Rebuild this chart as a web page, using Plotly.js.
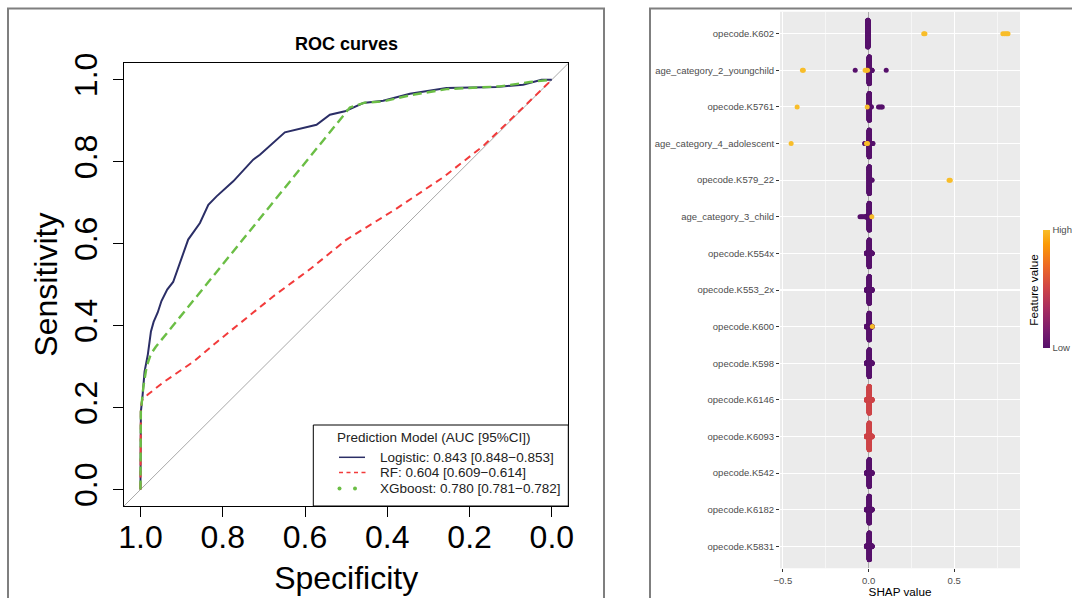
<!DOCTYPE html>
<html><head><meta charset="utf-8">
<script src="https://cdn.plot.ly/plotly-3.0.1.min.js"></script>
<style>html,body{margin:0;padding:0;background:#fff}#chart{width:1072px;height:598px}</style>
</head><body><div id="chart"></div>
<script>
const FONT = 'Liberation Sans, Arial, sans-serif';

// ---------------- ROC data (specificity, sensitivity) ----------------
const logisticSpec = [1, 0.999, 0.995, 0.99, 0.982, 0.9745, 0.968, 0.958, 0.949, 0.935, 0.9205, 0.911, 0.897, 0.884, 0.8554, 0.835, 0.815, 0.7745, 0.726, 0.7096, 0.649, 0.6124, 0.572, 0.5395, 0.503, 0.4586, 0.41, 0.345, 0.256, 0.1344, 0.07, 0.025, 0];
const logisticSens = [0, 0.19, 0.228, 0.288, 0.33, 0.386, 0.409, 0.432, 0.46, 0.488, 0.5065, 0.534, 0.576, 0.61, 0.6504, 0.695, 0.7154, 0.752, 0.805, 0.817, 0.8715, 0.8797, 0.89, 0.9146, 0.9228, 0.943, 0.9488, 0.9659, 0.98, 0.982, 0.9878, 1.0, 1.0];
const rfSpec = [1, 0.999, 0.996, 0.982, 0.944, 0.8685, 0.812, 0.679, 0.585, 0.499, 0.38, 0.264, 0.167, 0.07, 0];
const rfSens = [0, 0.2, 0.218, 0.232, 0.262, 0.314, 0.362, 0.47, 0.54, 0.61, 0.684, 0.762, 0.838, 0.932, 1.0];
const xgbSpec = [1, 0.999, 0.993, 0.985, 0.975, 0.963, 0.491, 0.455, 0.41, 0.345, 0.256, 0.126, 0.0535, 0];
const xgbSens = [0, 0.19, 0.25, 0.3, 0.33, 0.348, 0.932, 0.944, 0.947, 0.962, 0.977, 0.9837, 0.9943, 1.0];
const legendTitle = 'Prediction Model (AUC [95%CI])';
const modelNames = ['Logistic: 0.843 [0.848\u22120.853]', 'RF: 0.604 [0.609\u22120.614]', 'XGboost: 0.780 [0.781\u22120.782]'];
const modelColors = ['#2B2E66', '#F23B3B', '#6BBE45'];
const rocTicks = [0, 0.2, 0.4, 0.6, 0.8, 1.0];

// ---------------- SHAP data ----------------
const features = ['opecode.K602', 'age_category_2_youngchild', 'opecode.K5761', 'age_category_4_adolescent', 'opecode.K579_22', 'age_category_3_child', 'opecode.K554x', 'opecode.K553_2x', 'opecode.K600', 'opecode.K598', 'opecode.K6146', 'opecode.K6093', 'opecode.K542', 'opecode.K6182', 'opecode.K5831'];
// per feature: SHAP value of each group of observations, its scaled feature value, and how many observations
const groupShap = [
  [-0.004, 0.322, 0.329, 0.784, 0.795, 0.805, 0.814],
  [-0.386, -0.381, -0.078, -0.02, -0.013, -0.006, 0.004, 0.02, 0.103],
  [-0.417, -0.008, 0.004, 0.015, 0.058, 0.066, 0.074, 0.08],
  [-0.452, -0.022, -0.012, -0.006, 0.004, 0.025],
  [0.004, 0.02, 0.47, 0.477],
  [-0.05, -0.042, -0.034, -0.026, -0.012, 0.004, 0.012, 0.019],
  [-0.012, -0.005, 0.004, 0.013, 0.02],
  [-0.012, -0.005, 0.004, 0.013, 0.02],
  [-0.012, -0.005, 0.004, 0.013, 0.02, 0.022],
  [-0.012, -0.005, 0.004, 0.013, 0.02],
  [-0.012, -0.005, 0.004, 0.013, 0.02],
  [-0.012, -0.005, 0.004, 0.013, 0.02],
  [-0.012, -0.005, 0.004, 0.013, 0.02],
  [-0.012, -0.005, 0.004, 0.013, 0.02],
  [-0.012, -0.005, 0.004, 0.013, 0.02]
];
const groupFeat = [
  [0, 1, 1, 1, 1, 1, 1],
  [1, 1, 0, 1, 1, 1, 0, 0, 0],
  [1, 1, 0, 0, 0, 0, 0, 0],
  [1, 0, 1, 1, 0, 0],
  [0, 0, 1, 1],
  [0, 0, 0, 0, 0, 0, 0, 1],
  [0, 0, 0, 0, 0],
  [0, 0, 0, 0, 0],
  [0, 0, 0, 0, 0, 1],
  [0, 0, 0, 0, 0],
  [0.5, 0.5, 0.5, 0.5, 0.5],
  [0.5, 0.5, 0.5, 0.5, 0.5],
  [0, 0, 0, 0, 0],
  [0, 0, 0, 0, 0],
  [0, 0, 0, 0, 0]
];
const groupCount = [
  [200, 1, 1, 1, 1, 1, 1],
  [1, 1, 1, 1, 1, 1, 200, 3, 1],
  [1, 1, 200, 3, 1, 1, 1, 1],
  [1, 2, 1, 1, 200, 2],
  [200, 2, 1, 1],
  [1, 1, 1, 1, 8, 200, 6, 1],
  [8, 12, 200, 12, 8],
  [8, 12, 200, 12, 8],
  [8, 12, 200, 12, 8, 1],
  [8, 12, 200, 12, 8],
  [8, 12, 200, 12, 8],
  [8, 12, 200, 12, 8],
  [8, 12, 200, 12, 8],
  [8, 12, 200, 12, 8],
  [8, 12, 200, 12, 8]
];
const shapTicks = [-0.5, 0, 0.5];

// ---------------- beeswarm layout (quasirandom, density-scaled) ----------------
function vdc(n) { let v = 0, d = 1; while (n > 0) { d *= 2; v += (n % 2) / d; n = Math.floor(n / 2); } return v; }
const pts = [];
features.forEach((f, r) => {
  const nMax = Math.max(...groupCount[r]);
  groupShap[r].forEach((s, i) => {
    const n = groupCount[r][i];
    const w = 0.37 * n / nMax;
    for (let k = 0; k < n; k++) {
      const off = n === 1 ? 0 : w * (2 * vdc(k + 1) - 1);
      pts.push({ x: s, y: r + 1 + off, c: groupFeat[r][i], t: f });
    }
  });
});
pts.sort((a, b) => a.c - b.c);

const infernoScale = [[0, '#56106B'], [0.139, '#781C6D'], [0.324, '#A52C60'], [0.509, '#CF4446'], [0.694, '#ED6925'], [0.88, '#FB9A06'], [1, '#F8BD29']];

const traces = [
  { type: 'scatter', mode: 'lines', x: logisticSpec, y: logisticSens, name: modelNames[0], xaxis: 'x', yaxis: 'y',
    line: { color: modelColors[0], width: 2 } },
  { type: 'scatter', mode: 'lines', x: rfSpec, y: rfSens, name: modelNames[1], xaxis: 'x', yaxis: 'y',
    line: { color: modelColors[1], width: 2, dash: '7px,5px' } },
  { type: 'scatter', mode: 'lines', x: xgbSpec, y: xgbSens, name: modelNames[2], xaxis: 'x', yaxis: 'y',
    line: { color: modelColors[2], width: 2.4, dash: '9px,5px' } },
  { type: 'scatter', mode: 'markers', x: pts.map(p => p.x), y: pts.map(p => p.y), xaxis: 'x2', yaxis: 'y2',
    showlegend: false, hoverinfo: 'x+text', text: pts.map(p => p.t),
    marker: { size: 5, color: pts.map(p => p.c), cmin: 0, cmax: 1, colorscale: infernoScale, line: { width: 0 },
      showscale: true,
      colorbar: { x: 1042.7 / 1072, xanchor: 'left', xref: 'paper', y: 1 - 289 / 598, yanchor: 'middle', yref: 'paper',
        thickness: 6.6, len: 118, lenmode: 'pixels', xpad: 0, ypad: 0, outlinewidth: 0,
        tickvals: [0, 1], ticktext: ['Low', 'High'], ticks: '', ticklabelposition: 'outside',
        tickfont: { family: FONT, size: 9.5, color: '#4D4D4D' } } } }
];

const W = 1072, H = 598;
const px = v => v / W, py = v => 1 - v / H;

// legend drawn in the R style: box, centred title, sample glyphs and entry text
const legendShapes = [
  { type: 'rect', xref: 'paper', yref: 'paper', x0: px(313.3), x1: px(568.3), y0: py(506), y1: py(425), line: { color: '#000', width: 1 }, fillcolor: '#fff' },
  { type: 'line', xref: 'paper', yref: 'paper', x0: px(339), x1: px(365), y0: py(457.3), y1: py(457.3), line: { color: modelColors[0], width: 1.5 } },
  { type: 'line', xref: 'paper', yref: 'paper', x0: px(339), x1: px(366), y0: py(472.5), y1: py(472.5), line: { color: modelColors[1], width: 1.3, dash: '4px,3.5px' } },
  { type: 'circle', xref: 'paper', yref: 'paper', x0: px(337.5), x1: px(341.5), y0: py(490.5), y1: py(486.5), line: { width: 0 }, fillcolor: modelColors[2] },
  { type: 'circle', xref: 'paper', yref: 'paper', x0: px(353), x1: px(357), y0: py(490.5), y1: py(486.5), line: { width: 0 }, fillcolor: modelColors[2] }
];
const legendY = [457.3, 472.5, 488.5];
const legendAnn = [{ text: legendTitle, xref: 'paper', yref: 'paper', x: px(434), y: py(437.3), xanchor: 'center', yanchor: 'middle',
    showarrow: false, font: { family: FONT, size: 13.5, color: '#222' } }]
  .concat(modelNames.map((t, i) => ({ text: t, xref: 'paper', yref: 'paper', x: px(378.3), y: py(legendY[i]), xanchor: 'left', yanchor: 'middle',
    showarrow: false, font: { family: FONT, size: 13.5, color: '#222' } })));

const layout = {
  width: W, height: H, margin: { l: 0, r: 0, t: 0, b: 0 }, paper_bgcolor: '#fff', plot_bgcolor: 'rgba(0,0,0,0)',
  font: { family: FONT, color: '#000' }, showlegend: false,
  title: { text: 'ROC curves', font: { family: FONT, size: 18, color: '#000', weight: 'bold' },
    x: px(346.5), xanchor: 'center', xref: 'paper', y: py(44), yanchor: 'middle', yref: 'paper' },
  xaxis: { domain: [px(124), px(568.3)], anchor: 'y', range: [1.04, -0.04], tickmode: 'array', tickvals: rocTicks, tickformat: '.1f',
    ticks: 'outside', ticklen: 10, tickwidth: 1, tickcolor: '#000', showline: true, linecolor: '#000', linewidth: 1, mirror: true,
    ticklabelstandoff: -7,
    showgrid: false, zeroline: false, tickfont: { family: FONT, size: 32, color: '#000' },
    title: { text: 'Specificity', font: { family: FONT, size: 32, color: '#000' }, standoff: 12 } },
  yaxis: { domain: [py(506), py(63.3)], anchor: 'x', range: [-0.04, 1.04], tickmode: 'array', tickvals: rocTicks, tickformat: '.1f',
    tickangle: -90, ticks: 'outside', ticklen: 10, tickwidth: 1, tickcolor: '#000', showline: true, linecolor: '#000', linewidth: 1, mirror: true,
    ticklabelstandoff: 3,
    showgrid: false, zeroline: false, tickfont: { family: FONT, size: 32, color: '#000' },
    title: { text: 'Sensitivity', font: { family: FONT, size: 32, color: '#000' }, standoff: 0 } },
  xaxis2: { domain: [px(780), px(1020)], anchor: 'y2', range: [-0.517, 0.884], tickmode: 'array', tickvals: shapTicks, tickformat: '.1f',
    ticks: 'outside', ticklen: 3, tickwidth: 1, tickcolor: '#333', showline: false,
    showgrid: true, gridcolor: '#fff', gridwidth: 1.1,
    minor: { tickmode: 'linear', tick0: 0, dtick: 0.25, showgrid: true, gridcolor: '#fff', gridwidth: 0.55 },
    zeroline: true, zerolinecolor: '#A9A9A9', zerolinewidth: 1.6,
    tickfont: { family: FONT, size: 9.5, color: '#4D4D4D' },
    title: { text: 'SHAP value', font: { family: FONT, size: 11.7, color: '#000' }, standoff: 2 } },
  yaxis2: { domain: [py(568.3), py(11.7)], anchor: 'x2', range: [15.6, 0.4], tickmode: 'array',
    tickvals: features.map((f, i) => i + 1), ticktext: features,
    ticks: 'outside', ticklen: 3, tickwidth: 1, tickcolor: '#333', showline: false,
    showgrid: true, gridcolor: '#fff', gridwidth: 1.1, zeroline: false,
    tickfont: { family: FONT, size: 9.5, color: '#4D4D4D' } },
  shapes: [
    { type: 'rect', xref: 'paper', yref: 'paper', x0: px(8), x1: px(604), y0: -0.05, y1: py(8.5), line: { color: '#7F7F7F', width: 2 }, fillcolor: 'rgba(0,0,0,0)' },
    { type: 'rect', xref: 'paper', yref: 'paper', x0: px(650), x1: 1.05, y0: -0.05, y1: py(8.5), line: { color: '#7F7F7F', width: 2 }, fillcolor: 'rgba(0,0,0,0)' },
    { type: 'rect', xref: 'x2 domain', yref: 'y2 domain', x0: 0, x1: 1, y0: 0, y1: 1, line: { width: 0 }, fillcolor: '#EBEBEB', layer: 'below' },
    { type: 'line', xref: 'x', yref: 'y', x0: 1.04, y0: -0.04, x1: -0.04, y1: 1.04, line: { color: '#A8A8A8', width: 1 }, layer: 'below' }
  ].concat(legendShapes),
  annotations: [
    { text: 'Feature value', xref: 'paper', yref: 'paper', x: px(1032.7), y: py(290), xanchor: 'center', yanchor: 'middle',
      textangle: -90, showarrow: false, font: { family: FONT, size: 11.7, color: '#000' } }
  ].concat(legendAnn)
};

Plotly.newPlot('chart', traces, layout, { displayModeBar: false, staticPlot: true });
</script>
</body></html>
